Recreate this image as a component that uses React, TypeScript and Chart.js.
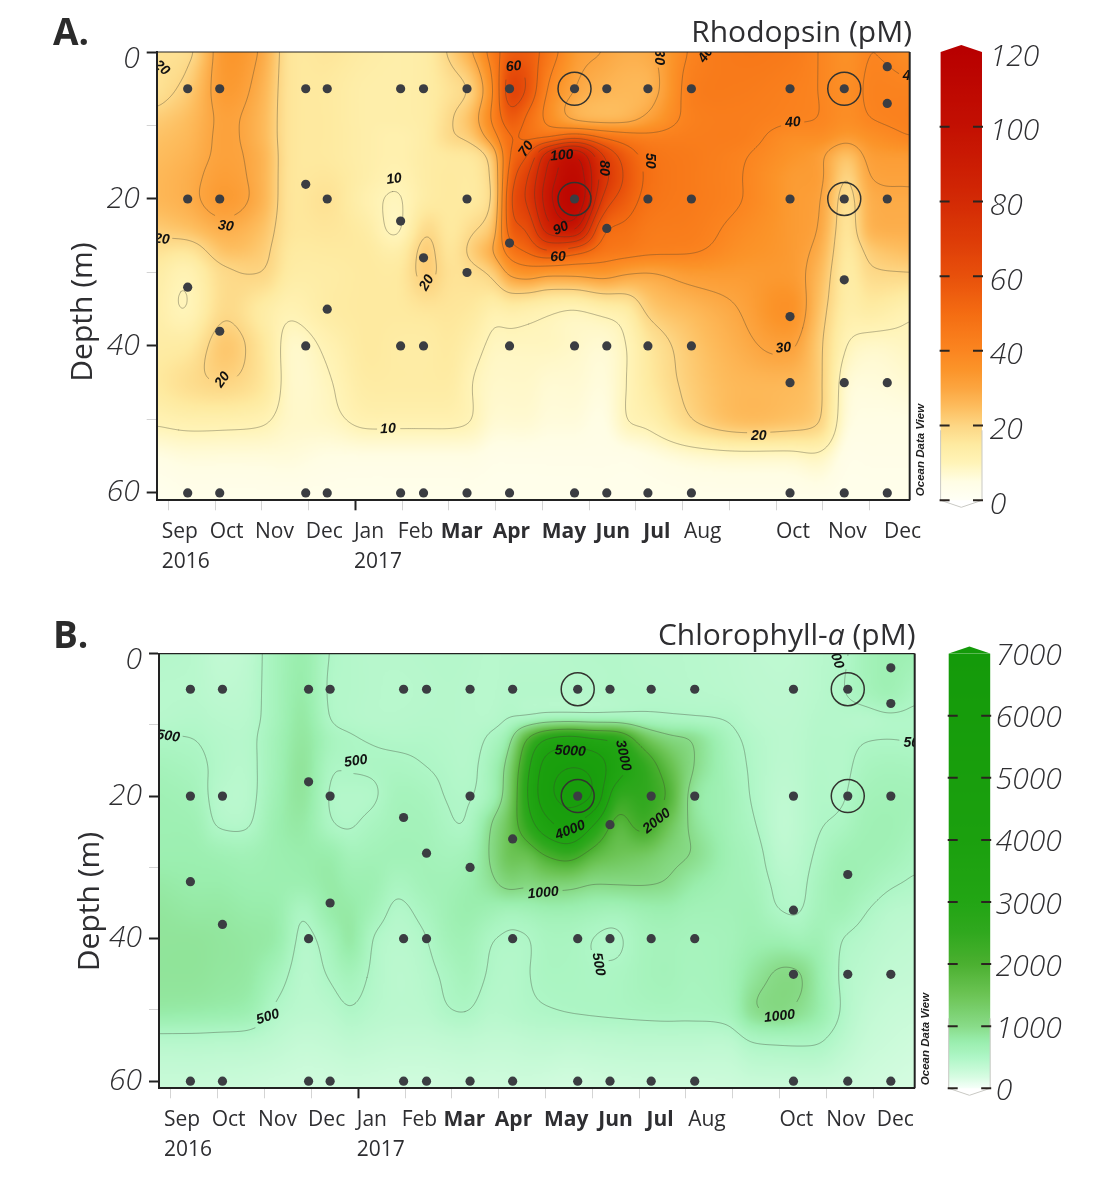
import React, { useEffect, useRef } from "react";
import { Chart, registerables } from "chart.js";
Chart.register(...registerables);

// ---- shared axis content
const monthTicks = [0, 1, 2, 3, 4, 5, 6, 7, 8, 9, 10, 11, 12, 13, 14, 15];
const depthTicks = [0, 10, 20, 30, 40, 50, 60];
const monthLabels = [["Sep", "2016"], ["Oct"], ["Nov"], ["Dec"], ["Jan", "2017"], ["Feb"], ["Mar"], ["Apr"], ["May"], ["Jun"], ["Jul"], ["Aug"], ["Oct"], ["Nov"], ["Dec"]];
const boldLabels = ["Mar", "Apr", "May", "Jun", "Jul"];
const labelStartsA = [-0.14, 0.886, 1.855, 2.94, 3.97, 4.91, 5.83, 6.94, 7.99, 9.14, 10.16, 11.03, 13.0, 14.11, 15.31];
const labelStartsB = [-0.15, 0.87, 1.86, 2.93, 3.97, 4.93, 5.82, 6.92, 7.97, 9.13, 10.16, 11.05, 13.0, 14.0, 15.08];

// ---- sampling stations (month position, depth in m)
const stationRows: [number, number[]][] = [
  [2, [15.38]],
  [5, [0.415, 1.1, 2.94, 3.4, 4.97, 5.46, 6.39, 7.3, 8.69, 9.38, 10.26, 11.19, 13.3, 14.46]],
  [7, [15.38]],
  [18, [2.94]],
  [20, [0.415, 1.1, 3.4, 6.39, 8.69, 10.26, 11.19, 13.3, 14.46, 15.38]],
  [23, [4.97]],
  [24, [9.38]],
  [26, [7.3]],
  [28, [5.46]],
  [30, [6.39]],
  [31, [14.46]],
  [32, [0.415]],
  [35, [3.4]],
  [36, [13.3]],
  [38, [1.1]],
  [40, [2.94, 4.97, 5.46, 7.3, 8.69, 9.38, 10.26, 11.19]],
  [45, [13.3, 14.46, 15.38]],
  [60, [0.415, 1.1, 2.94, 3.4, 4.97, 5.46, 6.39, 7.3, 8.69, 9.38, 10.26, 11.19, 13.3, 14.46, 15.38]],
];
const circledStations = [[8.69, 5], [8.69, 20], [14.46, 5], [14.46, 20]];

// ---- Rhodopsin field
const rhodopsinMonths = [-0.25, 0.4, 1.2, 2.0, 2.6, 3.4, 4.2, 4.9, 5.5, 6.0, 6.5, 6.95, 7.3, 7.7, 8.1, 8.7, 9.3, 9.8, 10.3, 11.2, 12.2, 13.3, 13.9, 14.5, 15.0, 15.86];
const rhodopsinDepths = [0, 5, 9, 11.5, 14, 17, 20, 24, 27, 30, 35, 40, 45, 50, 55, 61];
const rhodopsinColumns = [
  [17, 17, 22, 24, 25, 26, 26, 22, 17, 14, 13, 14, 15, 11, 5, 2],
  [18, 22, 25, 26, 27, 28, 28, 24, 16, 11, 10, 15, 18, 12, 6, 3],
  [34, 33, 31, 31, 31, 32, 33, 28, 24, 19, 19, 23, 20, 12, 6, 3],
  [29, 27, 26, 26, 27, 27, 27, 24, 22, 20, 14, 16, 16, 11, 6, 3],
  [16, 16, 16, 16, 16, 16, 16, 16, 15, 14, 11, 8, 8, 8, 6, 3],
  [16, 15, 15, 15, 15, 16, 17, 16, 15, 14, 14, 11, 9.4, 8.5, 5, 3],
  [14, 13, 13, 13, 13, 13, 12, 14, 15, 15, 15, 15, 14, 11.5, 5, 3],
  [13, 13, 13, 12, 12, 11, 9.5, 9, 13, 15, 15, 14, 14, 11.5, 5, 3],
  [14, 14, 14, 14, 14, 14, 14, 19, 22, 22, 16, 14, 14, 11.5, 5, 3],
  [21, 17, 19, 19, 15, 15, 15, 15, 16, 17, 16, 15, 14, 11.5, 5, 3],
  [30, 22, 26, 23, 16, 15, 15, 19, 22, 18, 15, 12, 10, 10, 5, 3],
  [45, 40, 42, 36, 25, 22, 21, 25, 30, 22, 12, 9, 8, 7, 4, 3],
  [55, 66, 56, 50, 50, 54, 58, 55, 45, 32, 13, 9, 8, 7, 4, 3],
  [55, 58, 48, 48, 60, 70, 72, 62, 52, 35, 12, 9, 8, 7, 4, 3],
  [46, 40, 38, 48, 85, 92, 95, 85, 60, 33, 11, 9, 7, 6, 4, 3],
  [33, 30, 28, 55, 100, 108, 112, 92, 55, 33, 10, 8, 7, 6, 4, 3],
  [30, 27, 26, 48, 70, 75, 68, 52, 46, 34, 12, 7, 6, 5, 4, 3],
  [28, 26, 27, 44, 55, 58, 55, 48, 44, 31, 14, 10, 10, 10, 4, 3],
  [29, 27, 32, 42, 47, 48, 47, 44, 42, 30, 22, 16, 15, 12, 5, 3],
  [41, 43, 42, 43, 44, 44, 44, 43, 41, 33, 26, 23, 22, 20, 7, 3],
  [45, 44, 43, 43, 41, 40.5, 40.5, 38, 36, 33, 30, 28, 26, 25, 8, 3],
  [44, 42, 41, 37, 35, 33, 33, 33, 33, 33, 36, 31, 26, 24, 8, 3],
  [40, 40, 40, 37, 32, 32, 31, 30, 28, 26, 24, 22, 22, 21, 9, 3],
  [36, 37, 37, 33, 24, 20, 17, 16, 15, 14, 13, 10, 7, 6, 4, 3],
  [40, 41, 40, 36, 32, 30, 28, 27, 22, 19, 14, 8, 6, 5, 4, 3],
  [37, 41, 42, 40, 33, 31, 29, 28, 25, 20, 11, 9, 7, 5, 4, 3],
];
const rhodopsinLevels = [10, 20, 30, 40, 50, 60, 70, 80, 90, 100];
const rhodopsinContourLabels: [string, number, number, number][] = [
  ["20", -0.14, 2.2, 40], ["30", 1.23, 23.7, 8], ["20", -0.14, 25.5, 5], ["10", 4.83, 17.3, -8],
  ["20", 5.53, 31.4, -60], ["60", 7.39, 2, -5], ["70", 7.66, 13.2, -55], ["100", 8.42, 14.1, -5],
  ["80", 9.31, 15.8, 90], ["50", 10.3, 14.8, 90], ["90", 8.4, 24, -25], ["60", 8.34, 27.9, -3],
  ["30", 10.5, 0.7, 90], ["40", 11.5, 0.4, -55], ["40", 13.36, 9.6, -5], ["40", 15.88, 3.3, 0],
  ["20", 1.16, 44.6, -55], ["10", 4.7, 51.3, -2], ["30", 13.16, 40.3, -5], ["20", 12.63, 52.3, 0],
];
const rhodopsinColors: [number, string][] = [
  [0, "#fffff6"], [5, "#fffde4"], [10, "#fff4b8"], [15, "#feeaa0"], [20, "#fdd684"], [25, "#fdbd5e"],
  [30, "#fca540"], [35, "#fb9429"], [40, "#fb8520"], [50, "#f46c12"], [60, "#e8500b"], [70, "#dd3b07"],
  [80, "#d32a05"], [90, "#cb1c03"], [100, "#c31002"], [120, "#b80000"],
];

// ---- Chlorophyll-a field
const chlorophyllMonths = [-0.25, 0.5, 1.0, 1.6, 2.2, 2.8, 3.4, 3.8, 4.3, 4.8, 5.4, 5.9, 6.3, 6.8, 7.2, 7.6, 8.0, 8.5, 9.0, 9.5, 10.1, 10.6, 11.1, 11.9, 12.4, 13.0, 13.4, 13.8, 14.3, 14.8, 15.3, 15.86];
const chlorophyllDepths = [0, 5, 9, 12, 16, 20, 24, 28, 32, 36, 40, 45, 50, 54, 61];
const chlorophyllColumns = [
  [450, 420, 430, 520, 620, 680, 700, 720, 800, 860, 880, 880, 800, 450, 280],
  [420, 420, 450, 500, 560, 620, 680, 720, 760, 820, 880, 880, 780, 450, 280],
  [350, 380, 420, 450, 460, 430, 480, 680, 760, 820, 860, 850, 760, 440, 270],
  [380, 400, 420, 440, 430, 420, 470, 650, 720, 780, 830, 820, 720, 430, 260],
  [600, 600, 600, 640, 650, 680, 720, 720, 720, 760, 780, 620, 480, 380, 240],
  [750, 780, 820, 850, 880, 860, 800, 760, 720, 530, 450, 420, 400, 330, 230],
  [490, 470, 490, 580, 520, 480, 520, 750, 800, 780, 620, 520, 420, 350, 230],
  [450, 450, 450, 520, 510, 450, 480, 620, 720, 800, 820, 620, 490, 380, 240],
  [430, 430, 430, 490, 520, 470, 560, 640, 700, 640, 500, 470, 430, 360, 230],
  [430, 420, 430, 470, 540, 600, 620, 650, 560, 460, 420, 400, 400, 340, 220],
  [440, 430, 440, 470, 505, 580, 620, 640, 640, 560, 480, 440, 410, 340, 220],
  [450, 440, 440, 450, 470, 490, 530, 600, 660, 680, 640, 540, 490, 360, 230],
  [440, 430, 430, 440, 450, 480, 510, 640, 720, 740, 670, 610, 510, 370, 240],
  [420, 420, 430, 530, 620, 640, 950, 1000, 900, 680, 520, 480, 430, 350, 230],
  [430, 440, 490, 800, 1150, 1250, 1500, 1500, 1150, 620, 480, 450, 440, 350, 240],
  [430, 450, 520, 2000, 2700, 2900, 2500, 1600, 1100, 650, 490, 490, 470, 370, 240],
  [430, 450, 600, 3000, 4400, 4600, 3600, 2100, 1200, 700, 560, 540, 490, 380, 220],
  [440, 450, 620, 3400, 5000, 5300, 4300, 2400, 1200, 700, 560, 540, 510, 370, 200],
  [450, 450, 600, 3100, 4800, 5000, 3100, 1800, 1050, 650, 500, 520, 520, 380, 220],
  [450, 460, 600, 2800, 3400, 2500, 1800, 1500, 1050, 620, 470, 530, 530, 390, 230],
  [430, 450, 560, 1600, 2500, 2500, 2200, 1400, 1050, 700, 600, 600, 550, 400, 240],
  [430, 440, 530, 1150, 1700, 1950, 1500, 1150, 980, 720, 620, 620, 560, 400, 240],
  [420, 430, 510, 1000, 1050, 900, 950, 1000, 800, 650, 600, 580, 550, 400, 240],
  [400, 410, 480, 580, 620, 650, 650, 680, 660, 640, 620, 640, 600, 400, 250],
  [380, 390, 410, 460, 480, 490, 530, 590, 620, 660, 700, 850, 950, 530, 260],
  [370, 380, 390, 400, 390, 370, 360, 390, 450, 500, 700, 1040, 1050, 560, 260],
  [380, 390, 400, 410, 410, 400, 400, 420, 440, 480, 650, 1030, 950, 560, 260],
  [420, 420, 440, 450, 460, 470, 480, 520, 580, 610, 680, 780, 780, 540, 260],
  [450, 480, 440, 450, 450, 470, 540, 660, 700, 650, 510, 480, 495, 420, 250],
  [620, 600, 430, 490, 560, 620, 660, 680, 640, 520, 440, 400, 360, 320, 230],
  [700, 680, 470, 500, 600, 650, 680, 650, 540, 430, 390, 350, 310, 280, 210],
  [680, 550, 470, 490, 580, 640, 620, 550, 480, 400, 360, 330, 290, 250, 190],
];
const chlorophyllLevels = [500, 1000, 2000, 3000, 4000, 5000];
const chlorophyllContourLabels: [string, number, number, number][] = [
  ["500", -0.06, 11.6, 8], ["500", 3.95, 15.1, -8], ["1000", 7.95, 33.6, -5], ["5000", 8.53, 13.7, 3],
  ["3000", 9.66, 14.3, 78], ["2000", 10.38, 23.5, -38], ["4000", 8.53, 24.8, -22], ["500", 2.07, 51, -17],
  ["500", 14.2, 0.5, 70], ["500", 15.9, 12.5, 0], ["500", 9.13, 43.6, 80], ["1000", 13.0, 50.9, -7],
];
const chlorophyllColors: [number, string][] = [
  [0, "#f6fff9"], [200, "#d4fce0"], [500, "#aef6c6"], [750, "#9aeeae"], [1000, "#88db88"], [1500, "#6cc455"],
  [2000, "#4bb030"], [2500, "#30a81e"], [3000, "#22a514"], [4000, "#1ba00e"], [7000, "#149a0a"],
];

const FONT = "'Open Sans', sans-serif";
const LABEL_FONT = "'Liberation Sans', Arial, sans-serif";
const INK = "#2e2e31";

function hex(c: string) {
  return [parseInt(c.slice(1, 3), 16), parseInt(c.slice(3, 5), 16), parseInt(c.slice(5, 7), 16)];
}
function colorAt(stops: [number, string][], v: number) {
  if (v <= stops[0][0]) return hex(stops[0][1]);
  for (let i = 1; i < stops.length; i++) {
    if (v <= stops[i][0]) {
      const t = (v - stops[i - 1][0]) / (stops[i][0] - stops[i - 1][0]);
      const a = hex(stops[i - 1][1]);
      const b = hex(stops[i][1]);
      return [a[0] + (b[0] - a[0]) * t, a[1] + (b[1] - a[1]) * t, a[2] + (b[2] - a[2]) * t];
    }
  }
  return hex(stops[stops.length - 1][1]);
}
// cubic reading between the grid values, tangents limited on steep flanks
function tangents(xs: number[], ys: number[]) {
  const n = xs.length;
  const s: number[] = [];
  for (let i = 0; i < n - 1; i++) s.push((ys[i + 1] - ys[i]) / (xs[i + 1] - xs[i]));
  const m = new Array(n).fill(0);
  m[0] = s[0];
  m[n - 1] = s[n - 2];
  for (let i = 1; i < n - 1; i++) {
    const c = (ys[i + 1] - ys[i - 1]) / (xs[i + 1] - xs[i - 1]);
    const lim = 2.5 * Math.max(Math.min(Math.abs(s[i - 1]), Math.abs(s[i])), 0.25 * Math.abs(c));
    m[i] = Math.abs(c) > lim ? Math.sign(c) * lim : c;
  }
  return m;
}
function hermite(xs: number[], ys: number[], m: number[], x: number) {
  let i = 0;
  if (x <= xs[0]) return ys[0];
  if (x >= xs[xs.length - 1]) return ys[ys.length - 1];
  while (x > xs[i + 1]) i++;
  const h = xs[i + 1] - xs[i];
  const t = (x - xs[i]) / h;
  const t2 = t * t;
  const t3 = t2 * t;
  return (2 * t3 - 3 * t2 + 1) * ys[i] + (t3 - 2 * t2 + t) * h * m[i] + (-2 * t3 + 3 * t2) * ys[i + 1] + (t3 - t2) * h * m[i + 1];
}
function soften(F: Float32Array, W: number, H: number, r: number) {
  const T = new Float32Array(W * H);
  for (let j = 0; j < H; j++) {
    for (let i = 0; i < W; i++) {
      let s = 0;
      for (let k = -r; k <= r; k++) s += F[j * W + Math.min(W - 1, Math.max(0, i + k))];
      T[j * W + i] = s / (2 * r + 1);
    }
  }
  for (let i = 0; i < W; i++) {
    for (let j = 0; j < H; j++) {
      let s = 0;
      for (let k = -r; k <= r; k++) s += T[Math.min(H - 1, Math.max(0, j + k)) * W + i];
      F[j * W + i] = s / (2 * r + 1);
    }
  }
}

type Panel = {
  letter: string; letterY: number; titleParts: [string, boolean][]; titleRight: number; titleBase: number;
  depthX: number; depthY: number; odvX: number; odvY: number;
  barL: number; barR: number; maxV: number; stepV: number; left: number; right: number; top: number; bottom: number;
  labelPad: number; labelShift: number; starts: number[]; monthMin: number; monthMax: number; depthMax: number;
  months: number[]; depths: number[]; columns: number[][]; levels: number[];
  clabels: [string, number, number, number][]; colors: [number, string][];
};

const panels: Panel[] = [
  {
    letter: "A.", letterY: 45, titleParts: [["Rhodopsin (pM)", false]], titleRight: 912, titleBase: 42,
    depthX: 83, depthY: 312, odvX: 921, odvY: 450, barL: 940.6, barR: 982, maxV: 120, stepV: 20,
    left: 156.7, right: 909.7, top: 52, bottom: 500.3, labelPad: 80, labelShift: 5,
    starts: labelStartsA, monthMin: -0.248, monthMax: 15.86, depthMax: 61,
    months: rhodopsinMonths, depths: rhodopsinDepths, columns: rhodopsinColumns, levels: rhodopsinLevels,
    clabels: rhodopsinContourLabels, colors: rhodopsinColors,
  },
  {
    letter: "B.", letterY: 48, titleParts: [["Chlorophyll-", false], ["a", true], [" (pM)", false]], titleRight: 915.5, titleBase: 45,
    depthX: 90, depthY: 301.5, odvX: 926, odvY: 439, barL: 948.7, barR: 990.2, maxV: 7000, stepV: 1000,
    left: 159, right: 914.7, top: 53.6, bottom: 488.3, labelPad: 81, labelShift: 3,
    starts: labelStartsB, monthMin: -0.256, monthMax: 15.89, depthMax: 61,
    months: chlorophyllMonths, depths: chlorophyllDepths, columns: chlorophyllColumns, levels: chlorophyllLevels,
    clabels: chlorophyllContourLabels, colors: chlorophyllColors,
  },
];

function makeFieldPlugin(p: Panel) {
  return {
    id: "field" + p.letter[0],
    beforeDraw(chart: any) {
      const { ctx, chartArea: a, scales } = chart;
      const sx = scales.x;
      const sy = scales.y;
      const step = 2;
      const W = Math.ceil((a.right - a.left) / step) + 1;
      const H = Math.ceil((a.bottom - a.top) / step) + 1;
      const colTan = p.columns.map((c) => tangents(p.depths, c));
      const F = new Float32Array(W * H);
      const mvals: number[] = [];
      for (let i = 0; i < W; i++) mvals.push(sx.getValueForPixel(a.left + i * step));
      for (let j = 0; j < H; j++) {
        const d = sy.getValueForPixel(a.top + j * step);
        const row = p.columns.map((c, k) => hermite(p.depths, c, colTan[k], d));
        const rt = tangents(p.months, row);
        for (let i = 0; i < W; i++) F[j * W + i] = hermite(p.months, row, rt, mvals[i]);
      }
      soften(F, W, H, 2);
      soften(F, W, H, 2);
      // colour field
      const off = document.createElement("canvas");
      off.width = W;
      off.height = H;
      const oc = off.getContext("2d")!;
      const img = oc.createImageData(W, H);
      for (let k = 0; k < W * H; k++) {
        const c = colorAt(p.colors, F[k]);
        img.data[k * 4] = c[0];
        img.data[k * 4 + 1] = c[1];
        img.data[k * 4 + 2] = c[2];
        img.data[k * 4 + 3] = 255;
      }
      oc.putImageData(img, 0, 0);
      ctx.save();
      ctx.beginPath();
      ctx.rect(a.left, a.top, a.right - a.left, a.bottom - a.top);
      ctx.clip();
      ctx.imageSmoothingEnabled = true;
      ctx.imageSmoothingQuality = "high";
      ctx.drawImage(off, a.left, a.top, W * step, H * step);

      // contour lines through the field
      const labels = p.clabels.map(([t, m, d, ang]) => {
        const px = sx.getPixelForValue(m);
        const py = sy.getPixelForValue(d);
        return { t, v: Number(t), px, py, ang: (ang * Math.PI) / 180 };
      });
      ctx.font = `italic bold 14px ${LABEL_FONT}`;
      const widths = labels.map((l) => ctx.measureText(l.t).width);
      ctx.lineWidth = 1;
      ctx.strokeStyle = "rgba(60,60,50,0.36)";
      ctx.lineJoin = "round";
      ctx.lineCap = "round";
      for (const level of p.levels) {
        const own = labels.map((l, i) => ({ l, w: widths[i] })).filter((o) => o.l.v === level);
        const segs: number[][] = [];
        const seg = (x0: number, y0: number, x1: number, y1: number) => {
          const mx = (x0 + x1) / 2;
          const my = (y0 + y1) / 2;
          for (const o of own) {
            const dx = mx - o.l.px;
            const dy = my - o.l.py;
            const u = dx * Math.cos(o.l.ang) + dy * Math.sin(o.l.ang);
            const v = -dx * Math.sin(o.l.ang) + dy * Math.cos(o.l.ang);
            if (Math.abs(u) < o.w / 2 + 4 && Math.abs(v) < 12) return;
          }
          segs.push([x0, y0, x1, y1]);
        };
        for (let j = 0; j < H - 1; j++) {
          for (let i = 0; i < W - 1; i++) {
            const v0 = F[j * W + i], v1 = F[j * W + i + 1], v2 = F[(j + 1) * W + i + 1], v3 = F[(j + 1) * W + i];
            const pts: number[][] = [];
            const x = a.left + i * step;
            const y = a.top + j * step;
            if (v0 < level !== v1 < level) pts.push([x + (step * (level - v0)) / (v1 - v0), y]);
            if (v1 < level !== v2 < level) pts.push([x + step, y + (step * (level - v1)) / (v2 - v1)]);
            if (v3 < level !== v2 < level) pts.push([x + (step * (level - v3)) / (v2 - v3), y + step]);
            if (v0 < level !== v3 < level) pts.push([x, y + (step * (level - v0)) / (v3 - v0)]);
            if (pts.length >= 2) seg(pts[0][0], pts[0][1], pts[1][0], pts[1][1]);
            if (pts.length === 4) seg(pts[2][0], pts[2][1], pts[3][0], pts[3][1]);
          }
        }
        // join the little pieces into whole lines
        const key = (x: number, y: number) => x.toFixed(2) + "," + y.toFixed(2);
        const at = new Map<string, number[]>();
        segs.forEach((s, i) => {
          for (const k of [key(s[0], s[1]), key(s[2], s[3])]) {
            if (!at.has(k)) at.set(k, []);
            at.get(k)!.push(i);
          }
        });
        const used = new Array(segs.length).fill(false);
        const walk = (i: number, x: number, y: number, out: number[][]) => {
          let cx = x, cy = y, cur = i;
          for (;;) {
            used[cur] = true;
            const s = segs[cur];
            const fromA = key(s[0], s[1]) === key(cx, cy);
            cx = fromA ? s[2] : s[0];
            cy = fromA ? s[3] : s[1];
            out.push([cx, cy]);
            const next = (at.get(key(cx, cy)) || []).find((n) => !used[n]);
            if (next === undefined) return;
            cur = next;
          }
        };
        ctx.beginPath();
        segs.forEach((s, i) => {
          if (used[i]) return;
          const fwd: number[][] = [];
          walk(i, s[0], s[1], fwd);
          const back: number[][] = [];
          const nb = (at.get(key(s[0], s[1])) || []).find((n) => !used[n]);
          if (nb !== undefined) walk(nb, s[0], s[1], back);
          const line = back.reverse().concat([[s[0], s[1]]], fwd);
          ctx.moveTo(line[0][0], line[0][1]);
          for (let q = 1; q < line.length - 1; q++) {
            ctx.quadraticCurveTo(line[q][0], line[q][1], (line[q][0] + line[q + 1][0]) / 2, (line[q][1] + line[q + 1][1]) / 2);
          }
          ctx.lineTo(line[line.length - 1][0], line[line.length - 1][1]);
        });
        ctx.stroke();
      }
      // contour values
      ctx.fillStyle = "#111";
      ctx.textAlign = "center";
      ctx.textBaseline = "middle";
      ctx.font = `italic bold 14px ${LABEL_FONT}`;
      for (const l of labels) {
        ctx.save();
        ctx.translate(l.px, l.py);
        ctx.rotate(l.ang);
        ctx.fillText(l.t, 0, 0);
        ctx.restore();
      }
      ctx.restore();

      // colour bar, on the library's value axis
      const yb = scales.y2;
      const y0 = yb.getPixelForValue(0);
      const y1 = yb.getPixelForValue(p.maxV);
      const grad = ctx.createLinearGradient(0, y0, 0, y1);
      const N = 120;
      for (let i = 0; i <= N; i++) {
        const c = colorAt(p.colors, (p.maxV * i) / N);
        grad.addColorStop(i / N, `rgb(${c[0]},${c[1]},${c[2]})`);
      }
      const mid = (p.barL + p.barR) / 2;
      const ctop = colorAt(p.colors, p.maxV);
      ctx.save();
      ctx.fillStyle = grad;
      ctx.fillRect(p.barL, y1, p.barR - p.barL, y0 - y1);
      ctx.fillStyle = `rgb(${ctop[0]},${ctop[1]},${ctop[2]})`;
      ctx.beginPath();
      ctx.moveTo(p.barL, y1);
      ctx.lineTo(mid, y1 - 7);
      ctx.lineTo(p.barR, y1);
      ctx.closePath();
      ctx.fill();
      ctx.strokeStyle = "#c9c9c4";
      ctx.lineWidth = 1;
      ctx.beginPath();
      ctx.moveTo(p.barL, y0 - 70);
      ctx.lineTo(p.barL, y0);
      ctx.lineTo(mid, y0 + 7);
      ctx.lineTo(p.barR, y0);
      ctx.lineTo(p.barR, y0 - 70);
      ctx.stroke();
      ctx.strokeStyle = "#2a2420";
      ctx.lineWidth = 2;
      ctx.beginPath();
      for (let v = 0; v < p.maxV; v += p.stepV) {
        const py = yb.getPixelForValue(v);
        ctx.moveTo(p.barL - 1, py);
        ctx.lineTo(p.barL + 9, py);
        ctx.moveTo(p.barR - 9, py);
        ctx.lineTo(p.barR + 1, py);
      }
      ctx.stroke();
      ctx.restore();
    },
    afterDraw(chart: any) {
      const { ctx, chartArea: a } = chart;
      ctx.save();
      // frame
      ctx.strokeStyle = "#222";
      ctx.lineWidth = 1.2;
      ctx.beginPath();
      ctx.moveTo(a.left, a.top);
      ctx.lineTo(a.right, a.top);
      ctx.stroke();
      ctx.lineWidth = 2;
      ctx.beginPath();
      ctx.moveTo(a.right, a.top);
      ctx.lineTo(a.right, a.bottom);
      ctx.stroke();
      // panel letter
      ctx.fillStyle = "#2b2b2b";
      ctx.textAlign = "left";
      ctx.textBaseline = "alphabetic";
      ctx.font = `bold 37px ${FONT}`;
      ctx.fillText(p.letter, 53, p.letterY);
      // title, right aligned
      ctx.fillStyle = INK;
      const fonts = p.titleParts.map(([, it]) => `${it ? "italic " : ""}30px ${FONT}`);
      let w = 0;
      p.titleParts.forEach(([t], i) => {
        ctx.font = fonts[i];
        w += ctx.measureText(t).width;
      });
      let x = p.titleRight - w;
      p.titleParts.forEach(([t], i) => {
        ctx.font = fonts[i];
        ctx.fillText(t, x, p.titleBase);
        x += ctx.measureText(t).width;
      });
      // depth axis title
      ctx.save();
      ctx.translate(p.depthX, p.depthY);
      ctx.rotate(-Math.PI / 2);
      ctx.textAlign = "center";
      ctx.textBaseline = "middle";
      ctx.font = `30px ${FONT}`;
      ctx.fillText("Depth (m)", 0, 0);
      ctx.restore();
      // software mark
      ctx.save();
      ctx.translate(p.odvX, p.odvY);
      ctx.rotate(-Math.PI / 2);
      ctx.textAlign = "center";
      ctx.textBaseline = "middle";
      ctx.fillStyle = "#222";
      ctx.font = `italic bold 11.5px ${LABEL_FONT}`;
      ctx.fillText("Ocean Data View", 0, 0);
      ctx.restore();
      ctx.restore();
    },
  };
}

function stationPoints() {
  const pts: { x: number; y: number }[] = [];
  stationRows.forEach(([d, ms]) => ms.forEach((m) => pts.push({ x: m, y: d })));
  return pts;
}

function PanelChart({ p, top }: { p: Panel; top: number }) {
  const ref = useRef<HTMLCanvasElement>(null);
  useEffect(() => {
    const fix = (size: number, key: "width" | "height") => (s: any) => {
      s[key] = size;
      s.paddingLeft = s.paddingRight = s.paddingTop = s.paddingBottom = 0;
    };
    const chart = new Chart(ref.current!, {
      type: "scatter",
      data: {
        datasets: [
          {
            data: stationPoints(), xAxisID: "x", yAxisID: "y", pointRadius: 4.6, pointHoverRadius: 4.6,
            pointBackgroundColor: "#3b3d42", pointBorderWidth: 0, showLine: false,
          },
          {
            data: circledStations.map(([x, y]) => ({ x, y })), xAxisID: "x", yAxisID: "y",
            pointRadius: 16.5, pointHoverRadius: 16.5, pointBackgroundColor: "rgba(0,0,0,0)",
            pointBorderColor: "#33332f", pointBorderWidth: 1.5, showLine: false,
          },
        ],
      },
      options: {
        responsive: false,
        animation: false,
        devicePixelRatio: 1,
        events: [],
        layout: { padding: { top: p.top, left: 0, right: 0, bottom: 0 } },
        plugins: { legend: { display: false }, tooltip: { enabled: false }, title: { display: false } },
        scales: {
          x: {
            type: "linear", position: "bottom", min: p.monthMin, max: p.monthMax,
            afterBuildTicks: (s: any) => { s.ticks = monthTicks.map((value) => ({ value })); },
            afterFit: fix(11, "height"),
            border: { display: true, color: "#222", width: 2 },
            grid: {
              drawOnChartArea: false, drawTicks: true, tickLength: 10,
              tickColor: (c: any) => (c.tick && c.tick.value === 4 ? "#222" : "rgba(60,60,60,0.22)"),
              tickWidth: (c: any) => (c.tick && c.tick.value === 4 ? 2 : 1),
            },
            ticks: { display: false, autoSkip: false },
          },
          xLabels: {
            type: "linear", axis: "x", position: "bottom", min: p.monthMin, max: p.monthMax,
            afterBuildTicks: (s: any) => { s.ticks = p.starts.map((value) => ({ value })); },
            afterFit: fix(600 - p.bottom - 11, "height"),
            border: { display: false },
            grid: { display: false, drawTicks: false },
            ticks: {
              autoSkip: false, maxRotation: 0, minRotation: 0, align: "start", padding: 6, color: INK,
              callback: (_v: any, i: number) => monthLabels[i],
              font: (c: any) => ({
                family: FONT, size: 21, lineHeight: 1.42,
                weight: boldLabels.includes(monthLabels[c.index]?.[0]) ? "bold" : "normal",
              }),
            },
          },
          y: {
            type: "linear", position: "left", reverse: true, min: 0, max: p.depthMax,
            afterBuildTicks: (s: any) => { s.ticks = depthTicks.map((value) => ({ value })); },
            afterFit: fix(p.left, "width"),
            border: { display: true, color: "#222", width: 2 },
            grid: {
              drawOnChartArea: false, tickLength: 10,
              tickColor: (c: any) => (c.tick && c.tick.value % 20 === 0 ? "#222" : "rgba(60,60,60,0.22)"),
              tickWidth: (c: any) => (c.tick && c.tick.value % 20 === 0 ? 2 : 1),
            },
            ticks: {
              padding: 7, color: INK, autoSkip: false,
              callback: (v: any) => (v === 0 ? ["", "0"] : v % 20 === 0 ? String(v) : ""),
              font: (c: any) => ({
                family: FONT, size: 30, style: "italic", weight: 300,
                lineHeight: c.tick && c.tick.value === 0 ? "14px" : 1.2,
              }),
            },
          },
          y2: {
            type: "linear", position: "right", min: 0, max: p.maxV,
            afterFit: fix(1093 - p.right, "width"),
            border: { display: false },
            grid: { display: false, drawTicks: false },
            ticks: {
              stepSize: p.stepV, padding: p.labelPad, color: INK, autoSkip: false, labelOffset: p.labelShift,
              callback: (v: any) => String(v),
              font: { family: FONT, size: 30, style: "italic", weight: 300 },
            },
          },
        },
      } as any,
      plugins: [makeFieldPlugin(p)],
    });
    return () => chart.destroy();
  }, [p]);
  return (
    <canvas ref={ref} width={1093} height={600}
      style={{ position: "absolute", left: 0, top, width: 1093, height: 600, display: "block" }} />
  );
}

export default function App() {
  return (
    <div style={{ position: "absolute", left: 0, top: 0, width: 1093, height: 1200, background: "#fff", overflow: "hidden" }}>
      <PanelChart p={panels[0]} top={0} />
      <PanelChart p={panels[1]} top={600} />
    </div>
  );
}
